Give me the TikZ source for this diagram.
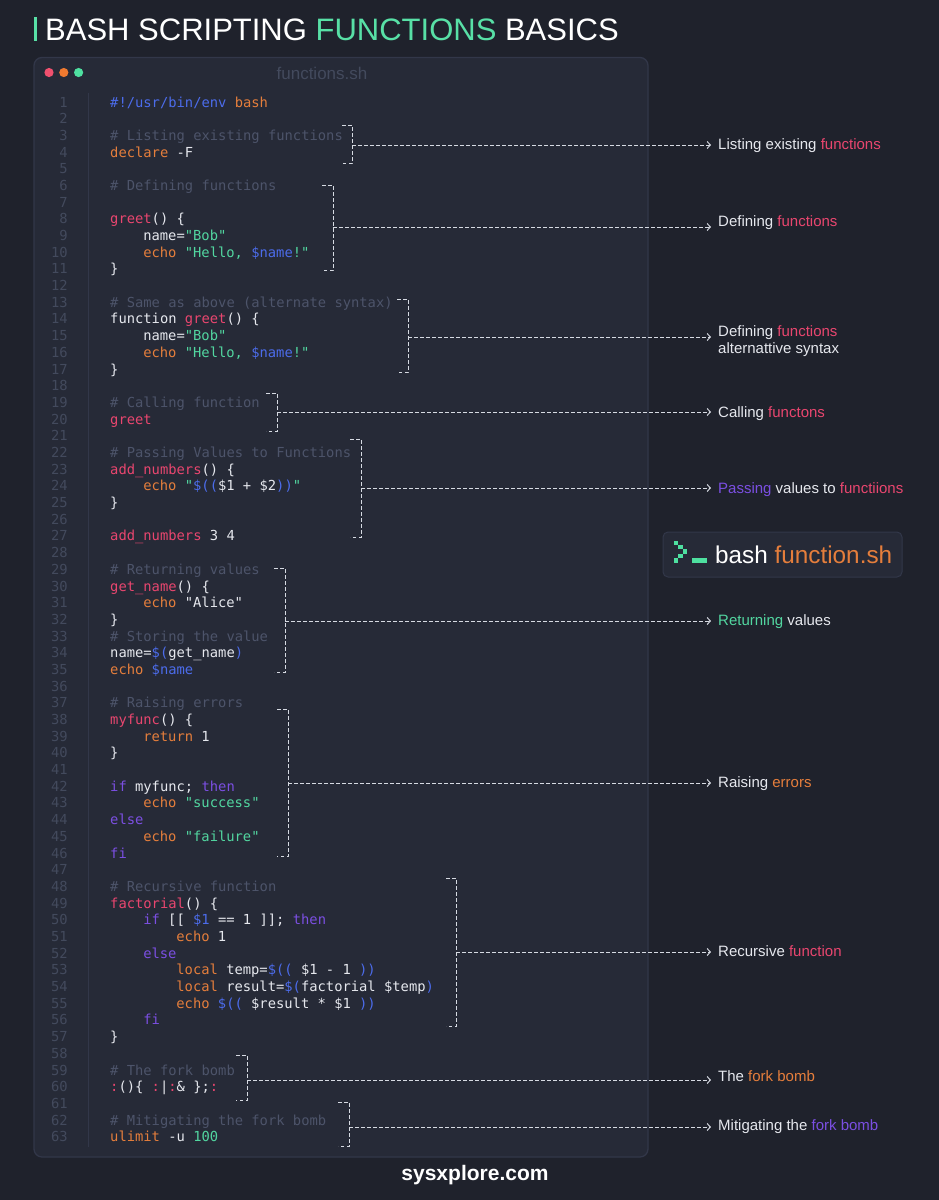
\documentclass[tikz,border=0pt]{standalone}
\usepackage{fontspec}
\setmainfont{Liberation Sans}
\newfontfamily\mycodefont{DejaVu Sans Mono}
\usetikzlibrary{arrows.meta}
\definecolor{bg}{HTML}{1F222C}
\definecolor{win}{HTML}{262A37}
\definecolor{winborder}{HTML}{323749}
\definecolor{cpink}{HTML}{E9466F}
\definecolor{corange}{HTML}{E57E3C}
\definecolor{cgreen}{HTML}{52D6A0}
\definecolor{cblue}{HTML}{4C6CEB}
\definecolor{cpurple}{HTML}{7B4FE2}
\definecolor{cwhite}{HTML}{E6E8EE}
\definecolor{ccomment}{HTML}{4D546A}
\definecolor{cnum}{HTML}{434A5D}
\definecolor{cdash}{HTML}{D6DAE2}
\definecolor{tgreen}{HTML}{58E0A6}
\definecolor{dred}{HTML}{F0506E}
\definecolor{dorange}{HTML}{F07A30}
\definecolor{dgreen}{HTML}{4EE0A0}
\newcommand\myPk[1]{\textcolor{cpink}{#1}}
\newcommand\myOr[1]{\textcolor{corange}{#1}}
\newcommand\myGr[1]{\textcolor{cgreen}{#1}}
\newcommand\myBl[1]{\textcolor{cblue}{#1}}
\newcommand\myPu[1]{\textcolor{cpurple}{#1}}
\newcommand\myCm[1]{\textcolor{ccomment}{#1}}
\newcommand\myline[3]{\node[code] (L#1) at ({#2},{102+(#1-1)*16.69+5}) {#3};}
\newcommand\mybracket[7]{%
  \coordinate (#1t) at (#2,#4);
  \coordinate (#1b) at (#2,#5);
  \coordinate (#1m) at (#3,#6);
  \draw[brk] (#1t) -- (#1t -| #1m) -- (#1b -| #1m) -- (#1b);
  \draw[brk,-{Straight Barb[length=3.2pt,width=7pt]},shorten >=7pt] (#1m) -- (#1m -| #7.west);
}
\begin{document}
\begin{tikzpicture}[x=1pt,y=-1pt,
  code/.style={font={\mycodefont\fontsize{13.8pt}{16pt}\selectfont},text=cwhite,inner sep=0pt,anchor=base west},
  num/.style={font={\mycodefont\fontsize{13.8pt}{16pt}\selectfont},text=cnum,inner sep=0pt,anchor=base east},
  lab/.style={font={\fontsize{15pt}{18pt}\selectfont},text=cwhite,inner sep=0pt,anchor=base west},
  brk/.style={draw=cdash,line width=1pt,dash pattern=on 3.5pt off 2.5pt}]
\fill[bg] (0,0) rectangle (939,1200);
\useasboundingbox (0,0) rectangle (939,1200);
% title
\fill[tgreen] (33.7,17) rectangle (37.2,40.7);
\node[inner sep=0pt,anchor=base west,text=white,font={\fontsize{31pt}{36pt}\selectfont}] (title) at (45,40.7)
  {BASH SCRIPTING \textcolor{tgreen}{FUNCTIONS} BASICS};
% window
\draw[fill=win,draw=winborder,line width=1.3pt,rounded corners=8pt] (34,57.5) rectangle (648,1157);
\fill[dred] (49,72.5) circle (4.6pt);
\fill[dorange] (63.8,72.5) circle (4.6pt);
\fill[dgreen] (78.6,72.5) circle (4.6pt);
\node[inner sep=0pt,text=cnum,font={\fontsize{17pt}{20pt}\selectfont}] (wtitle) at (322,73) {functions.sh};
\draw[winborder,line width=1pt] (88,93) -- (88,1147);
\foreach \n in {1,...,63} \node[num] (N\n) at (68,{102+(\n-1)*16.69+5}) {\n};
% code
\myline{1}{110}{\myBl{\#!/usr/bin/env} \myOr{bash}}
\myline{3}{110}{\myCm{\# Listing existing functions}}
\myline{4}{110}{\myOr{declare} -F}
\myline{6}{110}{\myCm{\# Defining functions}}
\myline{8}{110}{\myPk{greet}() \{}
\myline{9}{143.1}{name=\myGr{"Bob"}}
\myline{10}{143.1}{\myOr{echo} \myGr{"Hello, }\myBl{\$name}\myGr{!"}}
\myline{11}{110}{\}}
\myline{13}{110}{\myCm{\# Same as above (alternate syntax)}}
\myline{14}{110}{function \myPk{greet}() \{}
\myline{15}{143.1}{name=\myGr{"Bob"}}
\myline{16}{143.1}{\myOr{echo} \myGr{"Hello, }\myBl{\$name}\myGr{!"}}
\myline{17}{110}{\}}
\myline{19}{110}{\myCm{\# Calling function}}
\myline{20}{110}{\myPk{greet}}
\myline{22}{110}{\myCm{\# Passing Values to Functions}}
\myline{23}{110}{\myPk{add\_numbers}() \{}
\myline{24}{143.1}{\myOr{echo} \myGr{"}\myBl{\$((}\$1 + \$2\myBl{))}\myGr{"}}
\myline{25}{110}{\}}
\myline{27}{110}{\myPk{add\_numbers} 3 4}
\myline{29}{110}{\myCm{\# Returning values}}
\myline{30}{110}{\myPk{get\_name}() \{}
\myline{31}{143.1}{\myOr{echo} "Alice"}
\myline{32}{110}{\}}
\myline{33}{110}{\myCm{\# Storing the value}}
\myline{34}{110}{name=\myBl{\$(}get\_name\myBl{)}}
\myline{35}{110}{\myOr{echo} \myBl{\$name}}
\myline{37}{110}{\myCm{\# Raising errors}}
\myline{38}{110}{\myPk{myfunc}() \{}
\myline{39}{143.1}{\myOr{return} 1}
\myline{40}{110}{\}}
\myline{42}{110}{\myPu{if} myfunc; \myPu{then}}
\myline{43}{143.1}{\myOr{echo} \myGr{"success"}}
\myline{44}{110}{\myPu{else}}
\myline{45}{143.1}{\myOr{echo} \myGr{"failure"}}
\myline{46}{110}{\myPu{fi}}
\myline{48}{110}{\myCm{\# Recursive function}}
\myline{49}{110}{\myPk{factorial}() \{}
\myline{50}{143.1}{\myPu{if} [[ \myBl{\$1} == 1 ]]; \myPu{then}}
\myline{51}{176.2}{\myOr{echo} 1}
\myline{52}{143.1}{\myPu{else}}
\myline{53}{176.2}{\myOr{local} temp=\myBl{\$((} \$1 - 1 \myBl{))}}
\myline{54}{176.2}{\myOr{local} result=\myBl{\$(}factorial \$temp\myBl{)}}
\myline{55}{176.2}{\myOr{echo} \myBl{\$((} \$result * \$1 \myBl{))}}
\myline{56}{143.1}{\myPu{fi}}
\myline{57}{110}{\}}
\myline{59}{110}{\myCm{\# The fork bomb}}
\myline{60}{110}{\myPk{:}()\{ \myPk{:}|\myPk{:}\& \};\myPk{:}}
\myline{62}{110}{\myCm{\# Mitigating the fork bomb}}
\myline{63}{110}{\myOr{ulimit} -u \myGr{100}}
% labels
\node[lab] (l1) at (718,149) {Listing existing \textcolor{cpink}{functions}};
\node[lab] (l2) at (718,226) {Defining \textcolor{cpink}{functions}};
\node[lab] (l3) at (718,336) {Defining \textcolor{cpink}{functions}};
\node[lab] (l3b) at (718,353) {alternattive syntax};
\node[lab] (l4) at (718,417) {Calling \textcolor{cpink}{functons}};
\node[lab] (l5) at (718,493) {\textcolor{cpurple}{Passing} values to \textcolor{cpink}{functiions}};
\node[lab] (l6) at (718,625) {\textcolor{cgreen}{Returning} values};
\node[lab] (l7) at (718,787) {Raising \textcolor{corange}{errors}};
\node[lab] (l8) at (718,956) {Recursive \textcolor{cpink}{function}};
\node[lab] (l9) at (718,1081) {The \textcolor{corange}{fork bomb}};
\node[lab] (l10) at (718,1130) {Mitigating the \textcolor{cpurple}{fork bomb}};
% brackets
\mybracket{a}{342}{352}{125}{163}{145}{l1}
\mybracket{b}{322}{333}{185}{270}{227}{l2}
\mybracket{c}{397}{408}{299}{372}{337}{l3}
\mybracket{d}{266}{277}{393}{431}{412}{l4}
\mybracket{e}{350}{361}{439}{537}{488}{l5}
\mybracket{f}{274}{285}{568}{672}{621}{l6}
\mybracket{g}{277}{288}{709}{856}{783}{l7}
\mybracket{h}{446}{456}{878}{1026}{952}{l8}
\mybracket{i}{236}{247}{1055}{1100}{1080}{l9}
\mybracket{j}{338}{349}{1102}{1146}{1127}{l10}
% bash logo
\draw[fill=win,draw=winborder,line width=1pt,rounded corners=5pt] (663,532) rectangle (902,577);
\fill[dgreen] (674,540.7) rectangle (678.4,545);
\fill[dgreen] (678.4,545) rectangle (682.7,549.4);
\fill[dgreen] (682.7,549.4) rectangle (687,553.8);
\fill[dgreen] (678.4,553.8) rectangle (682.7,558.2);
\fill[dgreen] (674,558.2) rectangle (678.4,562.6);
\fill[dgreen] (691.7,558.2) rectangle (707.3,562.6);
\node[inner sep=0pt,anchor=base west,text=white,font={\fontsize{24.3pt}{28pt}\selectfont}] (logo) at (715,563.5)
  {bash \textcolor{corange}{function.sh}};
% footer
\node[inner sep=0pt,anchor=base,text=white,font={\bfseries\fontsize{21pt}{24pt}\selectfont}] (foot) at (475,1180) {sysxplore.com};
\end{tikzpicture}
\end{document}
